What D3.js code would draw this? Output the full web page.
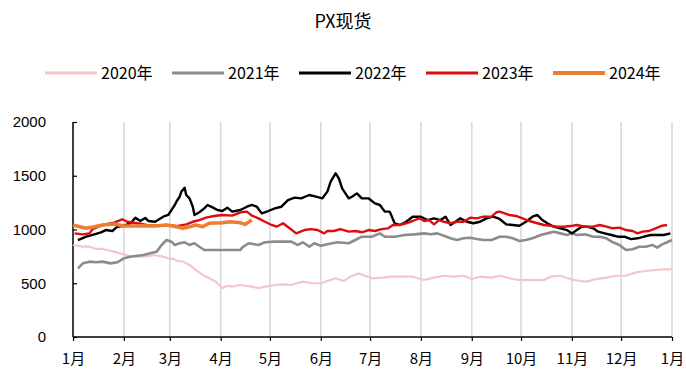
<!DOCTYPE html>
<html>
<head>
<meta charset="utf-8">
<script src="https://cdn.jsdelivr.net/npm/d3@7"></script>
<style>
  html, body { margin: 0; padding: 0; background: #fff; }
  svg { display: block; }
  text { font-family: "Noto Sans CJK SC", "Liberation Sans", sans-serif; fill: #000; }
</style>
</head>
<body>
<svg id="chart" width="686" height="369"></svg>
<script>
// PX spot price by day of year (day index, value), one series per year
const px2020 = [[0,856],[6,840],[10,840],[14,819],[18,819],[25,794],[31,769],[37,747],[43,747],[50,763],[55,747],[58,732],[61,726],[64,707],[67,701],[71,670],[75,623],[79,577],[83,546],[87,515],[91,453],[94,477],[97,468],[102,484],[109,468],[113,453],[117,468],[123,484],[129,490],[133,484],[140,515],[146,500],[151,500],[155,521],[160,546],[165,521],[169,561],[174,592],[178,570],[182,546],[188,552],[194,561],[200,561],[207,561],[214,530],[220,552],[226,570],[232,561],[238,570],[243,539],[248,561],[255,552],[260,570],[266,546],[272,530],[281,530],[287,530],[291,561],[297,570],[303,539],[309,521],[313,515],[319,539],[325,552],[331,570],[337,570],[343,601],[349,614],[355,623],[361,630],[365,630]];
const px2021 = [[3,639],[6,685],[10,701],[14,695],[18,701],[23,685],[27,695],[31,732],[35,747],[39,756],[43,763],[47,779],[51,794],[54,856],[57,902],[60,887],[62,856],[65,872],[68,881],[71,856],[74,872],[77,840],[80,809],[83,809],[91,809],[102,809],[103,831],[107,872],[113,856],[117,881],[123,887],[133,887],[137,856],[140,881],[144,840],[147,872],[151,849],[155,862],[161,881],[168,872],[172,902],[176,933],[182,933],[187,964],[190,933],[196,933],[202,949],[208,955],[214,964],[218,955],[222,964],[226,942],[230,918],[234,902],[238,918],[242,924],[246,911],[250,902],[255,902],[260,933],[264,933],[268,918],[272,893],[276,902],[280,918],[285,949],[289,964],[293,980],[297,964],[301,949],[304,964],[307,949],[312,955],[317,933],[321,933],[325,918],[329,881],[333,856],[337,809],[341,816],[345,840],[349,840],[353,856],[356,831],[359,862],[362,881],[365,902]];
const px2022 = [[3,902],[8,933],[13,955],[17,974],[20,995],[24,986],[27,1026],[31,1035],[35,1058],[38,1110],[41,1079],[44,1107],[46,1079],[50,1072],[55,1119],[58,1135],[60,1181],[62,1228],[63,1259],[65,1305],[66,1352],[68,1389],[69,1321],[71,1290],[73,1212],[74,1135],[77,1160],[80,1197],[82,1228],[85,1206],[88,1181],[91,1172],[94,1203],[97,1166],[102,1181],[106,1212],[109,1228],[112,1212],[115,1150],[119,1172],[123,1197],[127,1212],[131,1274],[135,1296],[139,1290],[144,1321],[148,1305],[152,1290],[155,1352],[157,1445],[160,1523],[162,1476],[164,1383],[168,1290],[170,1305],[173,1336],[176,1290],[180,1290],[184,1243],[187,1228],[190,1166],[193,1166],[196,1058],[199,1042],[203,1072],[207,1119],[212,1119],[216,1088],[220,1104],[224,1088],[227,1119],[230,1042],[233,1072],[236,1104],[240,1072],[244,1058],[248,1072],[252,1104],[256,1119],[260,1098],[264,1048],[268,1042],[272,1035],[276,1072],[280,1119],[283,1135],[286,1088],[289,1058],[293,1026],[297,1011],[301,995],[304,964],[307,995],[310,1026],[313,1026],[317,1011],[320,980],[324,964],[328,949],[332,933],[336,933],[340,911],[344,918],[348,933],[352,949],[356,949],[360,949],[364,964]];
const px2023 = [[1,964],[6,955],[10,964],[12,1004],[18,1042],[25,1063],[30,1095],[33,1072],[39,1058],[45,1042],[50,1035],[57,1042],[63,1032],[69,1048],[73,1072],[77,1088],[81,1110],[86,1126],[91,1135],[97,1129],[102,1160],[106,1166],[109,1129],[113,1104],[117,1072],[121,1042],[124,1026],[128,1058],[132,1011],[136,964],[141,995],[145,1004],[149,995],[153,964],[155,986],[159,986],[163,1004],[168,980],[172,986],[176,974],[180,995],[184,986],[188,1004],[192,1011],[195,1042],[199,1042],[203,1058],[207,1079],[211,1104],[214,1079],[217,1088],[220,1048],[223,1088],[226,1072],[230,1058],[234,1072],[238,1072],[242,1110],[246,1104],[250,1119],[255,1119],[258,1160],[260,1166],[263,1150],[266,1135],[270,1126],[274,1104],[278,1079],[283,1058],[287,1042],[291,1035],[295,1026],[299,1026],[303,1032],[307,1042],[312,1026],[317,1026],[321,1042],[325,1026],[329,1011],[333,1017],[337,995],[341,986],[344,964],[347,980],[351,986],[355,1011],[359,1035],[362,1042]];
const px2024 = [[0,1042],[4,1026],[8,1011],[13,1026],[18,1042],[25,1051],[31,1032],[37,1032],[43,1035],[50,1032],[57,1042],[63,1026],[67,1011],[71,1026],[75,1042],[79,1026],[83,1058],[91,1063],[96,1072],[102,1063],[105,1048],[109,1088]];

const years = ["2020年", "2021年", "2022年", "2023年", "2024年"];
const seriesData = [px2020, px2021, px2022, px2023, px2024];
const colors = ["#f5c6c8", "#8c8c8c", "#000000", "#dc0d0d", "#ed7d31"];
const widths = [2.2, 2.6, 2.4, 2.4, 3.6];
const monthLabels = ["1月","2月","3月","4月","5月","6月","7月","8月","9月","10月","11月","12月","1月"];
const yTicks = [0, 500, 1000, 1500, 2000];

const svg = d3.select("#chart");
const plotLeft = 73, plotRight = 672, plotTop = 122, plotBottom = 337;

const base = new Date(2023, 0, 1);
const dayToDate = d => d3.timeDay.offset(base, d);
const monthTicks = d3.timeMonth.range(base, new Date(2024, 0, 2));

const x = d3.scaleTime().domain([base, new Date(2024, 0, 1)]).range([plotLeft, plotRight]);
const y = d3.scaleLinear().domain([0, 2000]).range([plotBottom, plotTop]);

// title
svg.append("text")
  .attr("x", 343).attr("y", 28)
  .attr("text-anchor", "middle")
  .style("font-size", "18px")
  .text("PX现货");

// legend
const legendX = [45, 172, 299, 426, 553];
years.forEach((name, i) => {
  const g = svg.append("g").attr("transform", `translate(${legendX[i]},73)`);
  g.append("line").attr("x1", 0).attr("x2", 52).attr("y1", 0).attr("y2", 0)
    .attr("stroke", colors[i]).attr("stroke-width", i === 4 ? 4 : 2.8);
  g.append("text").attr("x", 56).attr("y", 6)
    .style("font-size", "16px").text(name);
});

// vertical month gridlines
svg.append("g").selectAll("line")
  .data(monthTicks.slice(1))
  .join("line")
  .attr("x1", d => x(d)).attr("x2", d => x(d))
  .attr("y1", plotTop).attr("y2", plotBottom)
  .attr("stroke", "#d9d9d9").attr("stroke-width", 1.6);

// x axis
const xAxis = d3.axisBottom(x)
  .tickValues(monthTicks)
  .tickSize(4)
  .tickFormat((d, i) => monthLabels[i]);
const gx = svg.append("g").attr("transform", `translate(0,${plotBottom})`).call(xAxis);
gx.select(".domain").attr("stroke", "#000").attr("stroke-width", 1.5).attr("d", `M${plotLeft},0H${plotRight}`);
gx.selectAll(".tick line").attr("stroke", "#000").attr("stroke-width", 1.2);
gx.selectAll(".tick text").attr("dy", "0").attr("y", 27)
  .style("font-size", "15px").style("font-family", "'Noto Sans CJK SC', sans-serif").attr("fill", "#000");

// y axis (ticks pointing into the plot)
const yAxis = d3.axisLeft(y).tickValues(yTicks).tickSize(-4).tickPadding(27).tickFormat(d3.format("d"));
const gy = svg.append("g").attr("transform", `translate(${plotLeft},0)`).call(yAxis);
gy.select(".domain").attr("stroke", "#000").attr("stroke-width", 1.5).attr("d", `M0,${plotTop}V${plotBottom}`);
gy.selectAll(".tick line").attr("stroke", "#000").attr("stroke-width", 1.2);
gy.selectAll(".tick text")
  .style("font-size", "15px").style("font-family", "'Liberation Sans', Arial, sans-serif").attr("fill", "#000");

// series lines
const line = d3.line()
  .x(d => x(dayToDate(d[0])))
  .y(d => y(d[1]));

seriesData.forEach((data, i) => {
  svg.append("path")
    .datum(data)
    .attr("fill", "none")
    .attr("stroke", colors[i])
    .attr("stroke-width", widths[i])
    .attr("stroke-linejoin", "round")
    .attr("d", line);
});
</script>
</body>
</html>
